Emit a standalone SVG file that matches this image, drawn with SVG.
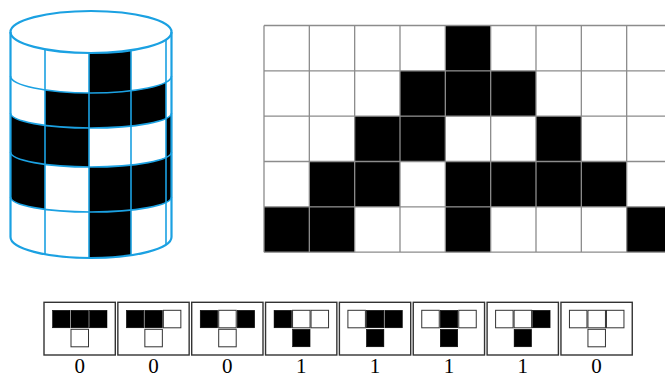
<svg xmlns="http://www.w3.org/2000/svg" width="665" height="379" viewBox="0 0 665 379">
<style>
.cb{fill:#000;stroke:none}
.cl{fill:none;stroke:#1ba1e2;stroke-width:1.6}
.co{fill:none;stroke:#1ba1e2;stroke-width:2.2}
.gc{fill:#000;stroke:none}
.gl{stroke:#8c8c8c;stroke-width:1.3;fill:none}
.box{fill:#fff;stroke:#333;stroke-width:1.4}
.w{fill:#fff;stroke:#333;stroke-width:1}
.k{fill:#000;stroke:#000;stroke-width:0.5}
.lab{font-family:"Liberation Serif","DejaVu Serif",serif;font-size:21px;text-anchor:middle;fill:#000}
</style>
<rect width="665" height="379" fill="#fff"/>
<g id="cylinder">
<path class="cb" d="M89,52.99 A80.5,21 0 0 0 131,50.22 L131,90.75 A80.5,17 0 0 1 89,92.99 Z"/>
<path class="cb" d="M45,89.95 A80.5,17 0 0 0 166,82.18 L166,118.45 A80.5,15 0 0 1 45,125.31 Z"/>
<path class="cb" d="M10.5,113 A80.5,15 0 0 0 89,128 L89,167 A80.5,15 0 0 1 10.5,152 Z"/>
<path class="cb" d="M166,118.45 A80.5,15 0 0 0 171.5,113 L171.5,152 A80.5,15 0 0 1 166,157.45 Z"/>
<path class="cb" d="M10.5,152 A80.5,15 0 0 0 45,164.31 L45,209.31 A80.5,15 0 0 1 10.5,197 Z"/>
<path class="cb" d="M89,167 A80.5,15 0 0 0 171.5,152 L171.5,197 A80.5,15 0 0 1 89,212 Z"/>
<path class="cb" d="M89,212 A80.5,15 0 0 0 131,210.02 L131,255.22 A80.5,21 0 0 1 89,257.99 Z"/>
<path class="cl" d="M10.5,76 A80.5,17 0 0 0 171.5,76"/>
<path class="cl" d="M10.5,113 A80.5,15 0 0 0 171.5,113"/>
<path class="cl" d="M10.5,152 A80.5,15 0 0 0 171.5,152"/>
<path class="cl" d="M10.5,197 A80.5,15 0 0 0 171.5,197"/>
<path class="cl" d="M45,49.23 V254.23 M89,52.99 V257.99 M131,50.22 V255.22 M166,39.63 V244.63"/>
<ellipse class="co" cx="91" cy="32" rx="80.5" ry="21"/>
<path class="co" d="M10.5,32 V237 A80.5,21 0 0 0 171.5,237 V32"/>
</g>
<g id="grid">
<rect class="gc" x="445.33" y="25.5" width="45.34" height="45.33"/>
<rect class="gc" x="400" y="70.83" width="136" height="45.34"/>
<rect class="gc" x="354.67" y="116.17" width="90.66" height="45.33"/>
<rect class="gc" x="536" y="116.17" width="45.33" height="45.33"/>
<rect class="gc" x="309.33" y="161.5" width="90.67" height="45.33"/>
<rect class="gc" x="445.33" y="161.5" width="181.34" height="45.33"/>
<rect class="gc" x="264" y="206.83" width="90.67" height="45.34"/>
<rect class="gc" x="445.33" y="206.83" width="45.34" height="45.34"/>
<rect class="gc" x="626.67" y="206.83" width="45.33" height="45.34"/>
<path class="gl" d="M264,25.5 H672 M264,70.83 H672 M264,116.17 H672 M264,161.5 H672 M264,206.83 H672 M264,252.17 H672 M264,25.5 V252.17 M309.33,25.5 V252.17 M354.67,25.5 V252.17 M400,25.5 V252.17 M445.33,25.5 V252.17 M490.67,25.5 V252.17 M536,25.5 V252.17 M581.33,25.5 V252.17 M626.67,25.5 V252.17"/>
</g>
<g id="rule1" transform="translate(44,0)">
<rect class="box" x="0" y="302.3" width="71.3" height="52.7"/>
<rect class="k" x="8.5" y="310.3" width="17.5" height="17.5"/><rect class="k" x="27" y="310.3" width="17.5" height="17.5"/><rect class="k" x="45.5" y="310.3" width="17.5" height="17.5"/>
<rect class="w" x="27" y="329.3" width="17.5" height="17.5"/>
<text class="lab" x="35.65" y="373">0</text>
</g>
<g id="rule2" transform="translate(117.85,0)">
<rect class="box" x="0" y="302.3" width="71.3" height="52.7"/>
<rect class="k" x="8.5" y="310.3" width="17.5" height="17.5"/><rect class="k" x="27" y="310.3" width="17.5" height="17.5"/><rect class="w" x="45.5" y="310.3" width="17.5" height="17.5"/>
<rect class="w" x="27" y="329.3" width="17.5" height="17.5"/>
<text class="lab" x="35.65" y="373">0</text>
</g>
<g id="rule3" transform="translate(191.7,0)">
<rect class="box" x="0" y="302.3" width="71.3" height="52.7"/>
<rect class="k" x="8.5" y="310.3" width="17.5" height="17.5"/><rect class="w" x="27" y="310.3" width="17.5" height="17.5"/><rect class="k" x="45.5" y="310.3" width="17.5" height="17.5"/>
<rect class="w" x="27" y="329.3" width="17.5" height="17.5"/>
<text class="lab" x="35.65" y="373">0</text>
</g>
<g id="rule4" transform="translate(265.55,0)">
<rect class="box" x="0" y="302.3" width="71.3" height="52.7"/>
<rect class="k" x="8.5" y="310.3" width="17.5" height="17.5"/><rect class="w" x="27" y="310.3" width="17.5" height="17.5"/><rect class="w" x="45.5" y="310.3" width="17.5" height="17.5"/>
<rect class="k" x="27" y="329.3" width="17.5" height="17.5"/>
<text class="lab" x="35.65" y="373">1</text>
</g>
<g id="rule5" transform="translate(339.4,0)">
<rect class="box" x="0" y="302.3" width="71.3" height="52.7"/>
<rect class="w" x="8.5" y="310.3" width="17.5" height="17.5"/><rect class="k" x="27" y="310.3" width="17.5" height="17.5"/><rect class="k" x="45.5" y="310.3" width="17.5" height="17.5"/>
<rect class="k" x="27" y="329.3" width="17.5" height="17.5"/>
<text class="lab" x="35.65" y="373">1</text>
</g>
<g id="rule6" transform="translate(413.25,0)">
<rect class="box" x="0" y="302.3" width="71.3" height="52.7"/>
<rect class="w" x="8.5" y="310.3" width="17.5" height="17.5"/><rect class="k" x="27" y="310.3" width="17.5" height="17.5"/><rect class="w" x="45.5" y="310.3" width="17.5" height="17.5"/>
<rect class="k" x="27" y="329.3" width="17.5" height="17.5"/>
<text class="lab" x="35.65" y="373">1</text>
</g>
<g id="rule7" transform="translate(487.1,0)">
<rect class="box" x="0" y="302.3" width="71.3" height="52.7"/>
<rect class="w" x="8.5" y="310.3" width="17.5" height="17.5"/><rect class="w" x="27" y="310.3" width="17.5" height="17.5"/><rect class="k" x="45.5" y="310.3" width="17.5" height="17.5"/>
<rect class="k" x="27" y="329.3" width="17.5" height="17.5"/>
<text class="lab" x="35.65" y="373">1</text>
</g>
<g id="rule8" transform="translate(560.95,0)">
<rect class="box" x="0" y="302.3" width="71.3" height="52.7"/>
<rect class="w" x="8.5" y="310.3" width="17.5" height="17.5"/><rect class="w" x="27" y="310.3" width="17.5" height="17.5"/><rect class="w" x="45.5" y="310.3" width="17.5" height="17.5"/>
<rect class="w" x="27" y="329.3" width="17.5" height="17.5"/>
<text class="lab" x="35.65" y="373">0</text>
</g>
</svg>
